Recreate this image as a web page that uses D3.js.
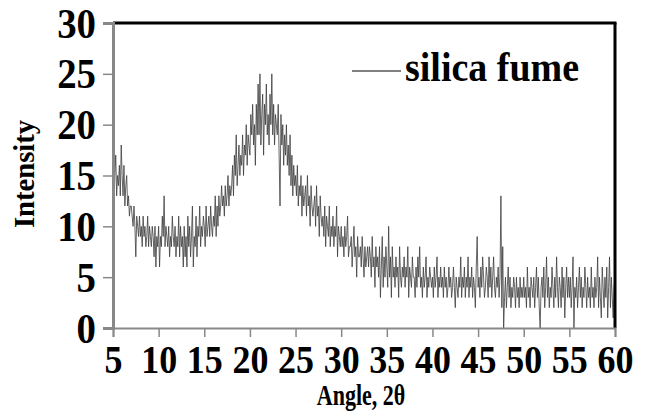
<!DOCTYPE html>
<html>
<head>
<meta charset="utf-8">
<script src="https://cdn.jsdelivr.net/npm/d3@7"></script>
<style>
  body { margin: 0; background: #fff; }
</style>
</head>
<body>
<svg id="chart"></svg>
<script>
// XRD pattern of silica fume, 2θ from 5 to 60 in steps of 0.1
const angleStart = 5;
const angleStep = 0.1;

const intensity = [
  14,12,15,17,13,15,14,16,13,18,
  15,13,16,12,14,15,12,13,11,12,
  12,11,10,12,10,7,11,10,9,11,
  9,10,8,11,9,10,8,9,11,8,
  10,9,8,10,9,7,10,6,9,8,
  10,6,9,8,11,9,13,8,10,9,
  8,10,7,9,8,11,9,8,10,7,
  9,8,11,7,10,8,9,6,10,7,
  9,6,11,8,10,7,9,12,6,9,
  8,11,7,10,9,12,8,10,9,11,
  10,8,12,9,10,11,9,12,10,9,
  11,10,13,9,12,10,13,11,12,14,
  12,13,11,14,12,13,15,12,14,13,
  14,16,13,17,15,19,14,16,18,15,
  17,16,19,15,18,17,20,16,19,18,
  17,21,19,22,18,20,16,22,19,24,
  19,25,18,21,23,17,22,20,24,19,
  21,18,23,20,25,19,22,18,21,20,
  19,22,17,12,21,18,20,16,19,17,
  20,16,18,15,19,14,17,13,16,14,
  15,13,16,12,14,13,15,11,14,12,
  13,14,11,15,12,13,10,14,12,11,
  12,13,10,14,11,12,9,13,11,10,
  11,9,12,8,11,10,9,12,8,10,
  9,11,8,10,9,12,7,10,9,8,
  10,8,9,7,10,8,9,11,7,8,
  8,9,6,8,10,7,8,5,9,7,
  7,8,6,9,7,5,8,6,7,8,
  6,8,7,5,9,6,7,4,8,6,
  7,5,8,3,6,9,4,7,5,8,
  6,4,10,5,7,3,8,5,6,4,
  7,5,6,3,8,5,4,6,5,7,
  4,6,5,8,3,6,5,4,7,5,
  5,3,6,4,7,5,8,4,5,3,
  6,4,5,7,3,5,4,6,5,4,
  5,3,6,4,5,7,3,5,4,6,
  4,5,3,6,4,5,3,4,6,4,
  5,3,4,6,4,2,5,4,3,5,
  4,7,3,5,4,6,3,5,4,7,
  3,5,4,6,3,5,4,2,6,9,
  4,5,3,6,4,7,5,3,4,6,
  5,3,7,4,6,3,5,7,4,3,
  5,4,6,3,5,13,2,8,0,3,
  5,2,4,6,3,5,2,4,3,5,
  4,2,5,3,4,2,5,3,4,3,
  5,3,4,2,6,3,4,2,5,4,
  3,5,2,4,6,3,5,2,0,4,
  5,3,6,2,4,7,3,5,2,4,
  3,6,4,2,5,3,7,4,2,5,
  4,2,6,3,5,1,4,6,3,5,
  3,5,2,4,7,0,4,3,5,2,
  4,6,3,5,2,4,3,6,4,2,
  5,3,4,2,6,3,4,2,5,3,
  4,7,2,5,3,1,6,4,2,5,
  3,6,1,4,7,2,5,3,1,4,
  5
];

const xTicks = [5, 10, 15, 20, 25, 30, 35, 40, 45, 50, 55, 60];
const yTicks = [0, 5, 10, 15, 20, 25, 30];
const seriesName = "silica fume";

const data = intensity.map((v, i) => ({ angle: angleStart + i * angleStep, value: v }));

const width = 645, height = 418;
const margin = { top: 23, right: 30, bottom: 90, left: 113 };
const serif = '"Liberation Serif", "Times New Roman", serif';

const svg = d3.select("#chart").attr("width", width).attr("height", height);

const x = d3.scaleLinear().domain([5, 60]).range([margin.left, width - margin.right]);
const y = d3.scaleLinear().domain([0, 30]).range([height - margin.bottom, margin.top]);

// the trace
const line = d3.line().x(d => x(d.angle)).y(d => y(d.value));

svg.append("path")
  .datum(data)
  .attr("fill", "none")
  .attr("stroke", "#3c3c3c")
  .attr("stroke-width", 0.8)
  .attr("d", line);

// black frame on top and right
svg.append("line")
  .attr("x1", x(5)).attr("x2", x(60) + 1.5)
  .attr("y1", y(30)).attr("y2", y(30))
  .attr("stroke", "#000").attr("stroke-width", 3);
svg.append("line")
  .attr("x1", x(60)).attr("x2", x(60))
  .attr("y1", y(30)).attr("y2", y(0))
  .attr("stroke", "#000").attr("stroke-width", 3);

// axes
const yAxis = svg.append("g")
  .attr("transform", `translate(${x(5)},0)`)
  .call(d3.axisLeft(y).tickValues(yTicks).tickSize(10));

const xAxis = svg.append("g")
  .attr("transform", `translate(0,${y(0)})`)
  .call(d3.axisBottom(x).tickValues(xTicks).tickSize(9));

yAxis.select(".domain").attr("stroke", "#888").attr("stroke-width", 3);
xAxis.select(".domain").attr("stroke", "#888").attr("stroke-width", 2);
svg.selectAll(".tick line").attr("stroke", "#888").attr("stroke-width", 1.5);

// tick labels: bold serif, a bit taller than wide like the original
yAxis.selectAll(".tick text")
  .attr("x", 0).attr("dy", null)
  .attr("transform", "translate(-17,14) scale(1.05,1.12)")
  .attr("text-anchor", "end")
  .attr("fill", "#000")
  .style("font-family", serif)
  .style("font-weight", "bold")
  .style("font-size", "37px");

xAxis.selectAll(".tick text")
  .attr("y", 0).attr("dy", null)
  .attr("transform", "translate(0,45) scale(1,1.12)")
  .attr("fill", "#000")
  .style("font-family", serif)
  .style("font-weight", "bold")
  .style("font-size", "36px");

// axis titles
svg.append("text")
  .attr("transform", "translate(361,405) scale(1,1.3)")
  .attr("text-anchor", "middle")
  .style("font-family", serif)
  .style("font-weight", "bold")
  .style("font-size", "22px")
  .text("Angle, 2θ");

svg.append("text")
  .attr("transform", "translate(34,174) rotate(-90) scale(1.1,1.1)")
  .attr("text-anchor", "middle")
  .style("font-family", serif)
  .style("font-weight", "bold")
  .style("font-size", "26px")
  .text("Intensity");

// legend
svg.append("line")
  .attr("x1", 352).attr("x2", 401)
  .attr("y1", 71).attr("y2", 71)
  .attr("stroke", "#000").attr("stroke-width", 1);

svg.append("text")
  .attr("transform", "translate(405,81) scale(1,1.12)")
  .style("font-family", serif)
  .style("font-weight", "bold")
  .style("font-size", "38px")
  .text(seriesName);
</script>
</body>
</html>
